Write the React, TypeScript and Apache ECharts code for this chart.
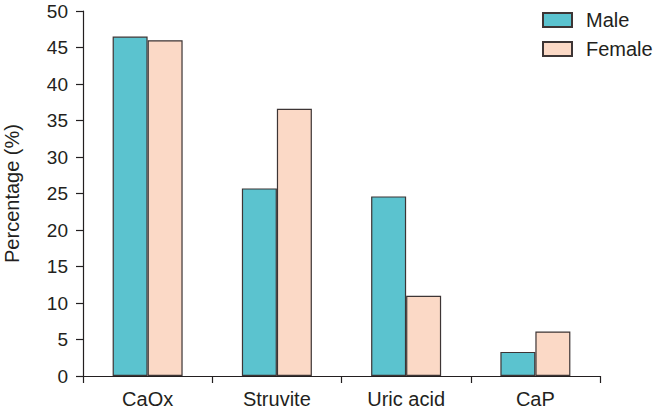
import React, { useEffect, useRef } from "react";
import * as echarts from "echarts";

const categories = ["CaOx", "Struvite", "Uric acid", "CaP"];
const maleValues = [46.5, 25.7, 24.6, 3.3];
const femaleValues = [46.0, 36.6, 11.0, 6.1];
const yTicks = { min: 0, max: 50, interval: 5 };

const TEXT = "#231f20";
const FONT = "'Liberation Sans', Arial, Helvetica, sans-serif";

export default function App() {
  const ref = useRef<HTMLDivElement>(null);
  useEffect(() => {
    const chart = echarts.init(ref.current!, null, { renderer: "svg" });
    chart.setOption({
      animation: false,
      backgroundColor: "#ffffff",
      textStyle: { fontFamily: FONT, color: TEXT },
      grid: { left: 83, right: 64, top: 11, bottom: 33, containLabel: false, outerBoundsMode: "none" },
      legend: {
        orient: "vertical",
        left: 542,
        top: 10,
        itemWidth: 29,
        itemHeight: 14,
        itemGap: 9,
        icon: "rect",
        textStyle: { fontSize: 20, color: TEXT, fontFamily: FONT, padding: [0, 0, 0, 9] },
        padding: 0,
        data: ["Male", "Female"],
      },
      xAxis: {
        type: "category",
        data: categories,
        axisLine: { lineStyle: { color: TEXT, width: 1.2 } },
        axisTick: { show: true, length: 7, lineStyle: { color: TEXT, width: 1.2 } },
        axisLabel: { fontSize: 20, color: TEXT, margin: 13, fontFamily: FONT },
      },
      yAxis: {
        type: "value",
        min: yTicks.min,
        max: yTicks.max,
        interval: yTicks.interval,
        name: "Percentage (%)",
        nameLocation: "middle",
        nameGap: 61,
        nameTextStyle: { fontSize: 20, color: TEXT, fontFamily: FONT },
        splitLine: { show: false },
        axisLine: { show: true, lineStyle: { color: TEXT, width: 1.2 } },
        axisTick: { show: true, length: 7, lineStyle: { color: TEXT, width: 1.2 } },
        axisLabel: { fontSize: 19, lineHeight: 17, color: TEXT, margin: 15, fontFamily: FONT },
      },
      series: [
        {
          name: "Male",
          type: "bar",
          data: maleValues,
          barWidth: 35,
          barGap: "0%",
          itemStyle: { color: "#5bc3cf", borderColor: "#3d3535", borderWidth: 1.2 },
        },
        {
          name: "Female",
          type: "bar",
          data: femaleValues,
          barWidth: 35,
          barGap: "0%",
          itemStyle: { color: "#fbd9c6", borderColor: "#3d3535", borderWidth: 1.2 },
        },
      ],
    });
    return () => chart.dispose();
  }, []);
  return <div ref={ref} style={{ width: 664, height: 409, position: "fixed", left: 0, top: 0 }} />;
}
